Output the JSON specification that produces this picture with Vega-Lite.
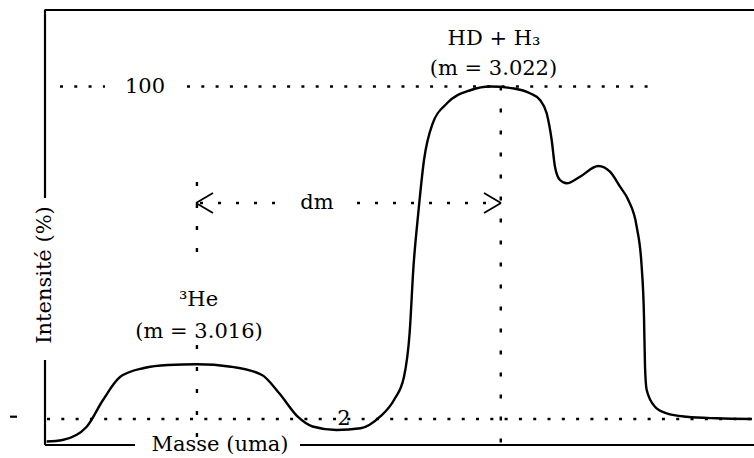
{
  "$schema": "https://vega.github.io/schema/vega-lite/v6.json",
  "width": 709,
  "height": 435,
  "autosize": {"type": "none"},
  "padding": {"left": 45, "top": 10, "right": 0, "bottom": 13},
  "background": "white",
  "config": {"view": {"stroke": null}},
  "datasets": {
    "curve": [
      {"m": 3.013032, "i": -4.63}, {"m": 3.013346, "i": -4.18}, {"m": 3.013819, "i": -0.35},
      {"m": 3.014145, "i": 7.61}, {"m": 3.014481, "i": 14.38}, {"m": 3.014955, "i": 17.04},
      {"m": 3.015429, "i": 17.92}, {"m": 3.016001, "i": 18.13}, {"m": 3.016673, "i": 17.42},
      {"m": 3.017285, "i": 14.97}, {"m": 3.017621, "i": 9.67}, {"m": 3.017996, "i": 2.6},
      {"m": 3.018282, "i": -0.2}, {"m": 3.018756, "i": -1.24}, {"m": 3.019232, "i": -0.74},
      {"m": 3.019615, "i": 2.68}, {"m": 3.019891, "i": 7.61}, {"m": 3.020089, "i": 14.47},
      {"m": 3.0202, "i": 27.35}, {"m": 3.020276, "i": 46.89}, {"m": 3.020371, "i": 62.72},
      {"m": 3.020484, "i": 78.34}, {"m": 3.020656, "i": 89.16}, {"m": 3.020938, "i": 95.05},
      {"m": 3.021412, "i": 98.97}, {"m": 3.021787, "i": 100.0}, {"m": 3.022261, "i": 99.41},
      {"m": 3.022577, "i": 98.0}, {"m": 3.022774, "i": 96.02}, {"m": 3.022906, "i": 92.1},
      {"m": 3.023005, "i": 84.24}, {"m": 3.02307, "i": 76.37}, {"m": 3.023169, "i": 72.45},
      {"m": 3.023301, "i": 71.47}, {"m": 3.023564, "i": 73.42}, {"m": 3.023926, "i": 76.57},
      {"m": 3.024156, "i": 74.89}, {"m": 3.024354, "i": 70.47}, {"m": 3.024518, "i": 66.55},
      {"m": 3.024684, "i": 58.68}, {"m": 3.024782, "i": 46.89}, {"m": 3.024828, "i": 32.16},
      {"m": 3.024848, "i": 17.42}, {"m": 3.024881, "i": 10.55}, {"m": 3.025045, "i": 5.63},
      {"m": 3.025276, "i": 3.69}, {"m": 3.025671, "i": 2.68}, {"m": 3.026263, "i": 2.21},
      {"m": 3.02696, "i": 2.01}
    ],
    "rules": [
      {"style": "axis", "m": 3.01299, "m2": 3.027, "i": 122.55, "i2": 122.55},
      {"style": "axis", "m": 3.013, "m2": 3.013, "i": 122.55, "i2": 67.14},
      {"style": "axis", "m": 3.013, "m2": 3.013, "i": 19.39, "i2": -5.66},
      {"style": "axis", "m": 3.013, "m2": 3.014777, "i": -5.66, "i2": -5.66},
      {"style": "axis", "m": 3.018035, "m2": 3.027, "i": -5.66, "i2": -5.66},
      {"style": "axis", "m": 3.012309, "m2": 3.012447, "i": 2.68, "i2": 2.68},
      {"style": "arrow", "m": 3.015982, "m2": 3.016317, "i": 65.67, "i2": 68.61},
      {"style": "arrow", "m": 3.015982, "m2": 3.016317, "i": 65.67, "i2": 62.72},
      {"style": "arrow", "m": 3.022004, "m2": 3.021669, "i": 65.67, "i2": 68.61},
      {"style": "arrow", "m": 3.022004, "m2": 3.021669, "i": 65.67, "i2": 62.72},
      {"style": "hdot", "m": 3.013296, "m2": 3.014185, "i": 100, "i2": 100},
      {"style": "hdot", "m": 3.015804, "m2": 3.025065, "i": 100, "i2": 100},
      {"style": "hdot", "m": 3.01304, "m2": 3.02696, "i": 2, "i2": 2},
      {"style": "dmdot", "m": 3.016061, "m2": 3.017542, "i": 65.67, "i2": 65.67},
      {"style": "dmdot", "m": 3.019161, "m2": 3.021985, "i": 65.67, "i2": 65.67},
      {"style": "vdot", "m": 3.016, "m2": 3.016, "i": 71.86, "i2": 45.92},
      {"style": "vdot", "m": 3.016, "m2": 3.016, "i": 23.82, "i2": -5.66},
      {"style": "vdot", "m": 3.022, "m2": 3.022, "i": 100, "i2": -5.66}
    ],
    "labelsBase": [
      {"m": 3.021866, "i": 112.3, "t": "HD + H₃"},
      {"m": 3.021856, "i": 103.4, "t": "(m = 3.022)"},
      {"m": 3.016031, "i": 35.31, "t": "³He"},
      {"m": 3.016041, "i": 25.88, "t": "(m = 3.016)"}
    ],
    "labelsMid": [
      {"m": 3.014975, "i": 100, "t": "100"},
      {"m": 3.018904, "i": 2, "t": "2"},
      {"m": 3.018371, "i": 65.67, "t": "dm"},
      {"m": 3.016456, "i": -5.66, "t": "Masse  (uma)"}
    ],
    "labelsRot": [
      {"m": 3.013, "i": 44.45, "t": "Intensité  (%)"}
    ]
  },
  "encoding": {
    "x": {"field": "m", "type": "quantitative", "scale": {"domain": [3.013, 3.027], "nice": false, "zero": false}, "axis": null},
    "y": {"field": "i", "type": "quantitative", "scale": {"domain": [-5.66, 122.55], "nice": false, "zero": false}, "axis": null}
  },
  "layer": [
    {
      "data": {"name": "rules"},
      "transform": [{"filter": "datum.style === 'hdot'"}],
      "mark": {"type": "rule", "color": "black", "strokeWidth": 2.4, "strokeDash": [3, 11.3]},
      "encoding": {"x2": {"field": "m2"}, "y2": {"field": "i2"}}
    },
    {
      "data": {"name": "rules"},
      "transform": [{"filter": "datum.style === 'dmdot'"}],
      "mark": {"type": "rule", "color": "black", "strokeWidth": 2.4, "strokeDash": [3, 15]},
      "encoding": {"x2": {"field": "m2"}, "y2": {"field": "i2"}}
    },
    {
      "data": {"name": "rules"},
      "transform": [{"filter": "datum.style === 'vdot'"}],
      "mark": {"type": "rule", "color": "black", "strokeWidth": 2.4, "strokeDash": [4, 18]},
      "encoding": {"x2": {"field": "m2"}, "y2": {"field": "i2"}}
    },
    {
      "data": {"name": "rules"},
      "transform": [{"filter": "datum.style === 'axis'"}],
      "mark": {"type": "rule", "color": "black", "strokeWidth": 2.2},
      "encoding": {"x2": {"field": "m2"}, "y2": {"field": "i2"}}
    },
    {
      "data": {"name": "rules"},
      "transform": [{"filter": "datum.style === 'arrow'"}],
      "mark": {"type": "rule", "color": "black", "strokeWidth": 1.8},
      "encoding": {"x2": {"field": "m2"}, "y2": {"field": "i2"}}
    },
    {
      "data": {"name": "curve"},
      "mark": {"type": "line", "color": "black", "strokeWidth": 2.4, "interpolate": "monotone"},
      "encoding": {}
    },
    {
      "data": {"name": "labelsBase"},
      "mark": {"type": "text", "font": "DejaVu Serif", "fontSize": 21, "color": "black", "align": "center", "baseline": "alphabetic"},
      "encoding": {"text": {"field": "t"}}
    },
    {
      "data": {"name": "labelsMid"},
      "mark": {"type": "text", "font": "DejaVu Serif", "fontSize": 21, "color": "black", "align": "center", "baseline": "middle"},
      "encoding": {"text": {"field": "t"}}
    },
    {
      "data": {"name": "labelsRot"},
      "mark": {"type": "text", "font": "DejaVu Serif", "fontSize": 21, "color": "black", "align": "center", "baseline": "middle", "angle": 270},
      "encoding": {"text": {"field": "t"}}
    }
  ]
}
